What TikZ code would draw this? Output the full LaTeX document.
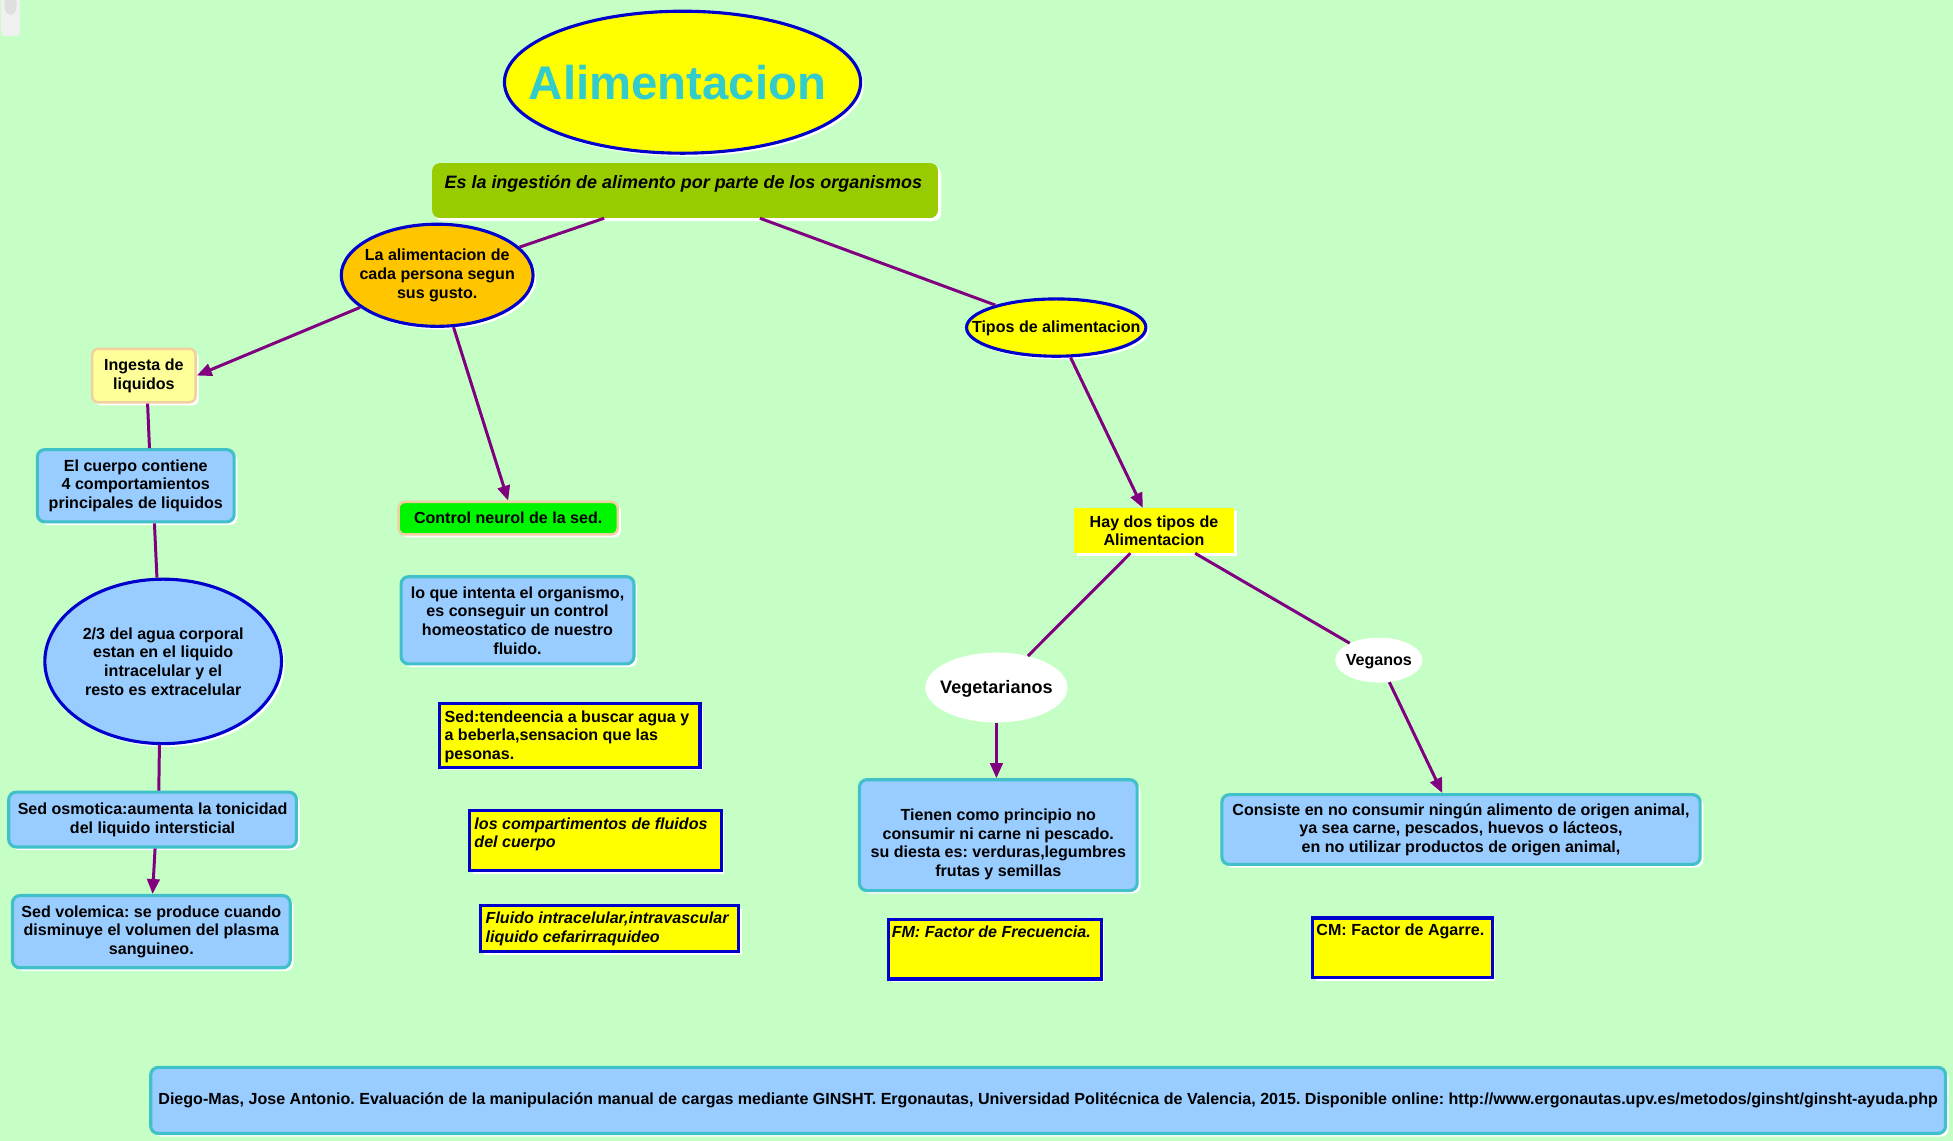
\documentclass[tikz,border=0pt]{standalone}
\usepackage{fontspec}
\setmainfont{Liberation Sans}
\usetikzlibrary{shapes.geometric,arrows.meta,shadows}
\definecolor{cbg}{RGB}{198,255,198}
\definecolor{cyel}{RGB}{255,255,0}
\definecolor{cblue}{RGB}{0,0,204}
\definecolor{ctitle}{RGB}{51,204,204}
\definecolor{colive}{RGB}{153,204,0}
\definecolor{corange}{RGB}{255,198,0}
\definecolor{clyel}{RGB}{255,255,153}
\definecolor{cpeach}{RGB}{240,208,160}
\definecolor{clblue}{RGB}{153,204,255}
\definecolor{cteal}{RGB}{64,192,200}
\definecolor{cgreen}{RGB}{0,245,0}
\definecolor{cpurple}{RGB}{128,0,128}
\frenchspacing
\begin{document}
\begin{tikzpicture}[x=1pt,y=-1pt,
  every node/.style={font=\bfseries\fontsize{12.9}{15}\selectfont, inner sep=0pt, align=center},
  wshadow/.style={drop shadow={fill=white,opacity=1,shadow xshift=2.5pt,shadow yshift=-2.5pt}},
  conn/.style={draw=cpurple, line width=2.4pt},
  arr/.style={conn, -{Triangle[length=12pt,width=10pt]}},
  oval/.style={ellipse, draw=cblue, line width=2.5pt, wshadow},
  bluebox/.style={rectangle, rounded corners=6pt, fill=clblue, draw=cteal, line width=2.5pt, wshadow},
  ybox/.style={rectangle, fill=cyel, draw=cblue, line width=2.5pt, wshadow},
  inbox/.style={anchor=north west, align=left},
  itbox/.style={anchor=north west, align=left, font=\bfseries\itshape\fontsize{12.9}{15}\selectfont},
]
\fill[cbg] (0,0) rectangle (1568,916);
\useasboundingbox (0,0) rectangle (1568,916);
% small gray element top-left
\fill[white!88!gray, rounded corners=3pt] (1,-3) rectangle (16,29);
\fill[white!75!gray] (8.5,4) ellipse (5 and 8);

% title
\node[oval, fill=cyel, minimum width=286, minimum height=114,
  label={[font=\bfseries\fontsize{38}{40}\selectfont, text=ctitle, xshift=-4pt]center:Alimentacion}] (title) at (548,66) {};
\node[rectangle, rounded corners=6pt, fill=colive, minimum width=406, minimum height=44, wshadow] (esla) at (550,153) {};
\node[itbox, font=\bfseries\itshape\fontsize{14.4}{16}\selectfont] (eslat) at ([xshift=10pt,yshift=-9.5pt]esla.north west) {Es la ingestión de alimento por parte de los organismos};

% left branch
\node[oval, fill=corange, minimum width=154, minimum height=82,
  label={center:La alimentacion de\\cada persona segun\\sus gusto.}] (gusto) at (351,221) {};
\node[rectangle, rounded corners=5pt, fill=clyel, draw=cpeach, line width=2pt, wshadow,
  minimum width=83, minimum height=43] (ingesta) at (115.5,301.5) {Ingesta de\\liquidos};
\node[bluebox, minimum width=158, minimum height=58] (cuerpo) at (109,390) {El cuerpo contiene\\4 comportamientos\\principales de liquidos};
\node[ellipse, fill=clblue, draw=cblue, line width=2.5pt, wshadow, minimum width=190, minimum height=132,
  label={center:2/3 del agua corporal\\estan en el liquido\\intracelular y el\\resto es extracelular}] (agua) at (131,531) {};
\node[bluebox, minimum width=231, minimum height=44] (osmotica) at (122.5,658) {Sed osmotica:aumenta la tonicidad\\del liquido intersticial};
\node[bluebox, minimum width=223, minimum height=58] (volemica) at (121.5,748) {Sed volemica: se produce cuando\\disminuye el volumen del plasma\\sanguineo.};

% middle column
\node[rectangle, rounded corners=5pt, fill=cgreen, draw=cpeach, line width=2pt, wshadow,
  minimum width=176, minimum height=26] (control) at (408,416) {Control neurol de la sed.};
\node[bluebox, minimum width=187, minimum height=70] (loque) at (415.5,498) {lo que intenta el organismo,\\es conseguir un control\\homeostatico de nuestro\\fluido.};
\node[ybox, minimum width=209, minimum height=51] (sed) at (457.5,590.5) {};
\node[inbox] (sedt) at ([xshift=5pt,yshift=-6.5pt]sed.north west) {Sed:tendeencia a buscar agua y\\a beberla,sensacion que las\\pesonas.};
\node[ybox, minimum width=202, minimum height=48] (compart) at (478,675) {};
\node[itbox] (compartt) at ([xshift=5pt,yshift=-6.5pt]compart.north west) {los compartimentos de fluidos\\del cuerpo};
\node[ybox, minimum width=207, minimum height=37] (fluido) at (489.5,745.5) {};
\node[itbox] (fluidot) at ([xshift=5pt,yshift=-6.5pt]fluido.north west) {Fluido intracelular,intravascular\\liquido cefarirraquideo};

% right branch
\node[oval, fill=cyel, minimum width=144, minimum height=46,
  label={[yshift=-1pt]center:Tipos de alimentacion}] (tipos) at (848,263) {};
\node[rectangle, fill=cyel, wshadow, minimum width=129, minimum height=36] (haydos) at (926.5,426) {Hay dos tipos de\\Alimentacion};
\node[ellipse, fill=white, minimum width=114, minimum height=56,
  label={[font=\bfseries\fontsize{14.5}{16}\selectfont, yshift=-1pt]center:Vegetarianos}] (veget) at (800,552) {};
\node[ellipse, fill=white, minimum width=70, minimum height=36,
  label={[yshift=-1pt]center:Veganos}] (veganos) at (1107,530) {};
\node[bluebox, minimum width=223, minimum height=89,
  label={[yshift=-7.5pt]center:Tienen como principio no\\consumir ni carne ni pescado.\\su diesta es: verduras,legumbres\\frutas y semillas}] (tienen) at (801.5,670.5) {};
\node[bluebox, minimum width=384, minimum height=56] (consiste) at (1173,666) {Consiste en no consumir ningún alimento de origen animal,\\ya sea carne, pescados, huevos o lácteos,\\en no utilizar productos de origen animal,};
\node[ybox, minimum width=171, minimum height=48] (fm) at (798.5,762) {};
\node[itbox] (fmt) at ([xshift=4pt,yshift=-6.5pt]fm.north west) {FM: Factor de Frecuencia.};
\node[ybox, minimum width=144, minimum height=48] (cm) at (1126,761) {};
\node[inbox] (cmt) at ([xshift=4pt,yshift=-5.5pt]cm.north west) {CM: Factor de Agarre.};

% footer
\node[bluebox, minimum width=1441, minimum height=53] (footer) at (841.5,883.5) {Diego-Mas, Jose Antonio. Evaluación de la manipulación manual de cargas mediante GINSHT. Ergonautas, Universidad Politécnica de Valencia, 2015. Disponible online: http://www.ergonautas.upv.es/metodos/ginsht/ginsht-ayuda.php};

% connectors
\draw[conn] (esla) -- (gusto);
\draw[conn] (esla) -- (tipos);
\draw[arr] (gusto) -- (ingesta.east);
\draw[arr] (gusto) -- (control.north);
\draw[conn] ([xshift=3pt]ingesta.south) -- ([xshift=11pt]cuerpo.north);
\draw[conn] ([xshift=15pt]cuerpo.south) -- ([xshift=-5pt]agua.north);
\draw[conn] ([xshift=-3pt]agua.south) -- ([xshift=5pt]osmotica.north);
\draw[arr] ([xshift=2pt]osmotica.south) -- ([xshift=1pt]volemica.north);
\draw[arr] (tipos) -- ([xshift=-9pt]haydos.north);
\draw[conn] ([xshift=-19pt]haydos.south) -- (veget);
\draw[conn] ([xshift=33pt]haydos.south) -- (veganos);
\draw[arr] (veget) -- (veget |- tienen.north);
\draw[arr] (veganos) -- ([xshift=-15pt]consiste.north);
\end{tikzpicture}
\end{document}
